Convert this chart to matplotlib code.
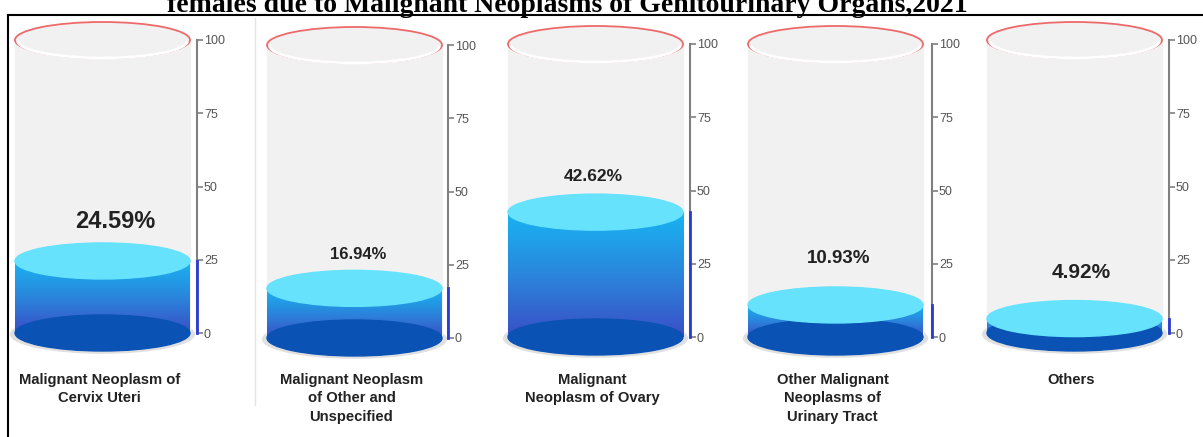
import numpy as np
import matplotlib
matplotlib.use('Agg')
import matplotlib.pyplot as plt
from matplotlib.patches import Ellipse, Rectangle, Arc
from matplotlib.colors import LinearSegmentedColormap
from matplotlib.lines import Line2D
import matplotlib.transforms as mtransforms

# datos
categorias = ['Malignant Neoplasm of\nCervix Uteri',
              'Malignant Neoplasm\nof Other and\nUnspecified',
              'Malignant\nNeoplasm of Ovary',
              'Other Malignant\nNeoplasms of\nUrinary Tract',
              'Others']
valores = [24.59, 16.94, 42.62, 10.93, 4.92]
ticks = [0, 25, 50, 75, 100]
titulo = 'females due to Malignant Neoplasms of Genitourinary Organs,2021'

# geometria de cada panel en pixeles: izquierda cilindro, eje, y de 100, y de 0
paneles = [(15, 197, 40, 333),
           (267, 448, 45, 338),
           (508, 690, 44, 337),
           (748, 932, 44, 337),
           (987, 1169, 40, 333)]
tam_pct = [17, 12, 12.5, 13.5, 15]
off_pct = [13.5, 11.4, 12, 16, 15.6]
dx_pct = [13, 4, -2, 3, 7]  # desplazamiento horizontal en px

W_FIG, H_FIG = 1203, 437
ANCHO = 175

plt.rcParams['font.family'] = ['Liberation Sans', 'DejaVu Sans']
fig = plt.figure(figsize=(W_FIG / 100, H_FIG / 100), dpi=100)

grad = LinearSegmentedColormap.from_list('liq', ['#3a4fc6', '#2a86dc', '#18b4f2'])

for i, (L, S, T, Z) in enumerate(paneles):
    v = valores[i]
    k = 100.0 / (Z - T)
    izq, der, arr, aba = L - 10, S, T - 25, Z + 30
    ax = fig.add_axes([izq / W_FIG, 1 - aba / H_FIG, (der - izq) / W_FIG, (aba - arr) / H_FIG])
    ax.set_facecolor('none')
    eh = 36 * k  # alto de elipse en unidades de datos

    # vidrio
    ax.add_patch(Ellipse((0.5, -1.2 * k), 1.05, eh * 1.05, color='#e0e0e0', zorder=1))
    ax.add_patch(Rectangle((0, 0), 1, 100, color='#f1f1f1', zorder=1))
    ax.add_patch(Ellipse((0.5, 0), 1, eh, color='#f1f1f1', zorder=1))

    # liquido
    g = np.linspace(0, 1, 100).reshape(-1, 1)
    ax.imshow(g, extent=(0, 1, 0, v), origin='lower', aspect='auto', cmap=grad, zorder=2)
    ax.add_patch(Ellipse((0.5, 0), 1, eh, color='#0a52b4', zorder=3))
    ax.add_patch(Ellipse((0.5, v), 1, eh, color='#66e2fd', zorder=4))

    # boca del vidrio
    ax.add_patch(Ellipse((0.5, 100), 1, eh, facecolor='#f1f1f1', edgecolor='#ee6a6a', lw=1.3, zorder=5))
    ax.add_patch(Arc((0.5, 100 - 0.8 * k), 0.97, eh * 0.95, theta1=200, theta2=340,
                     color='white', lw=2, zorder=6))

    ax.text(0.5 + dx_pct[i] / ANCHO, v + off_pct[i], f'{v:.2f}%', ha='center', va='center',
            fontsize=tam_pct[i], fontweight='bold', color='#222222', zorder=7)

    ax.set_xlim(-10 / ANCHO, (S - L) / ANCHO)
    ax.set_ylim(-30 * k, 100 + 25 * k)
    for s in ['left', 'top', 'bottom']:
        ax.spines[s].set_visible(False)
    ax.spines['right'].set_bounds(0, 100)
    ax.spines['right'].set_color('#808080')
    ax.spines['right'].set_linewidth(1.5)
    ax.plot([1, 1], [0, v], transform=ax.get_yaxis_transform(), color='#2b3bd4',
            lw=2, clip_on=False, zorder=8)
    ax.set_xticks([])
    ax.yaxis.tick_right()
    ax.set_yticks(ticks)
    ax.tick_params(axis='y', length=4, width=1.2, color='#808080', pad=1,
                   labelsize=9, labelcolor='#555555')

    tr = mtransforms.blended_transform_factory(ax.transData, fig.transFigure)
    ax.text(0.5 - 3 / ANCHO, 1 - 373 / H_FIG, categorias[i], transform=tr, ha='center', va='top',
            fontsize=10.6, fontweight='bold', color='#222222', linespacing=1.4)

# marco
fig.add_artist(Line2D([8 / W_FIG, 1], [1 - 15 / H_FIG] * 2, color='black', lw=1.5))
fig.add_artist(Line2D([8 / W_FIG] * 2, [0, 1 - 15 / H_FIG], color='black', lw=1.5))
fig.add_artist(Line2D([255 / W_FIG] * 2, [1 - 405 / H_FIG, 1 - 18 / H_FIG], color='#e4e4e4', lw=1))

fig.text(567 / W_FIG, 1 - 12 / H_FIG, titulo, ha='center', va='baseline',
         fontsize=20, fontweight='bold', family='Liberation Serif', color='black')

fig.savefig('out.png', dpi=100)
